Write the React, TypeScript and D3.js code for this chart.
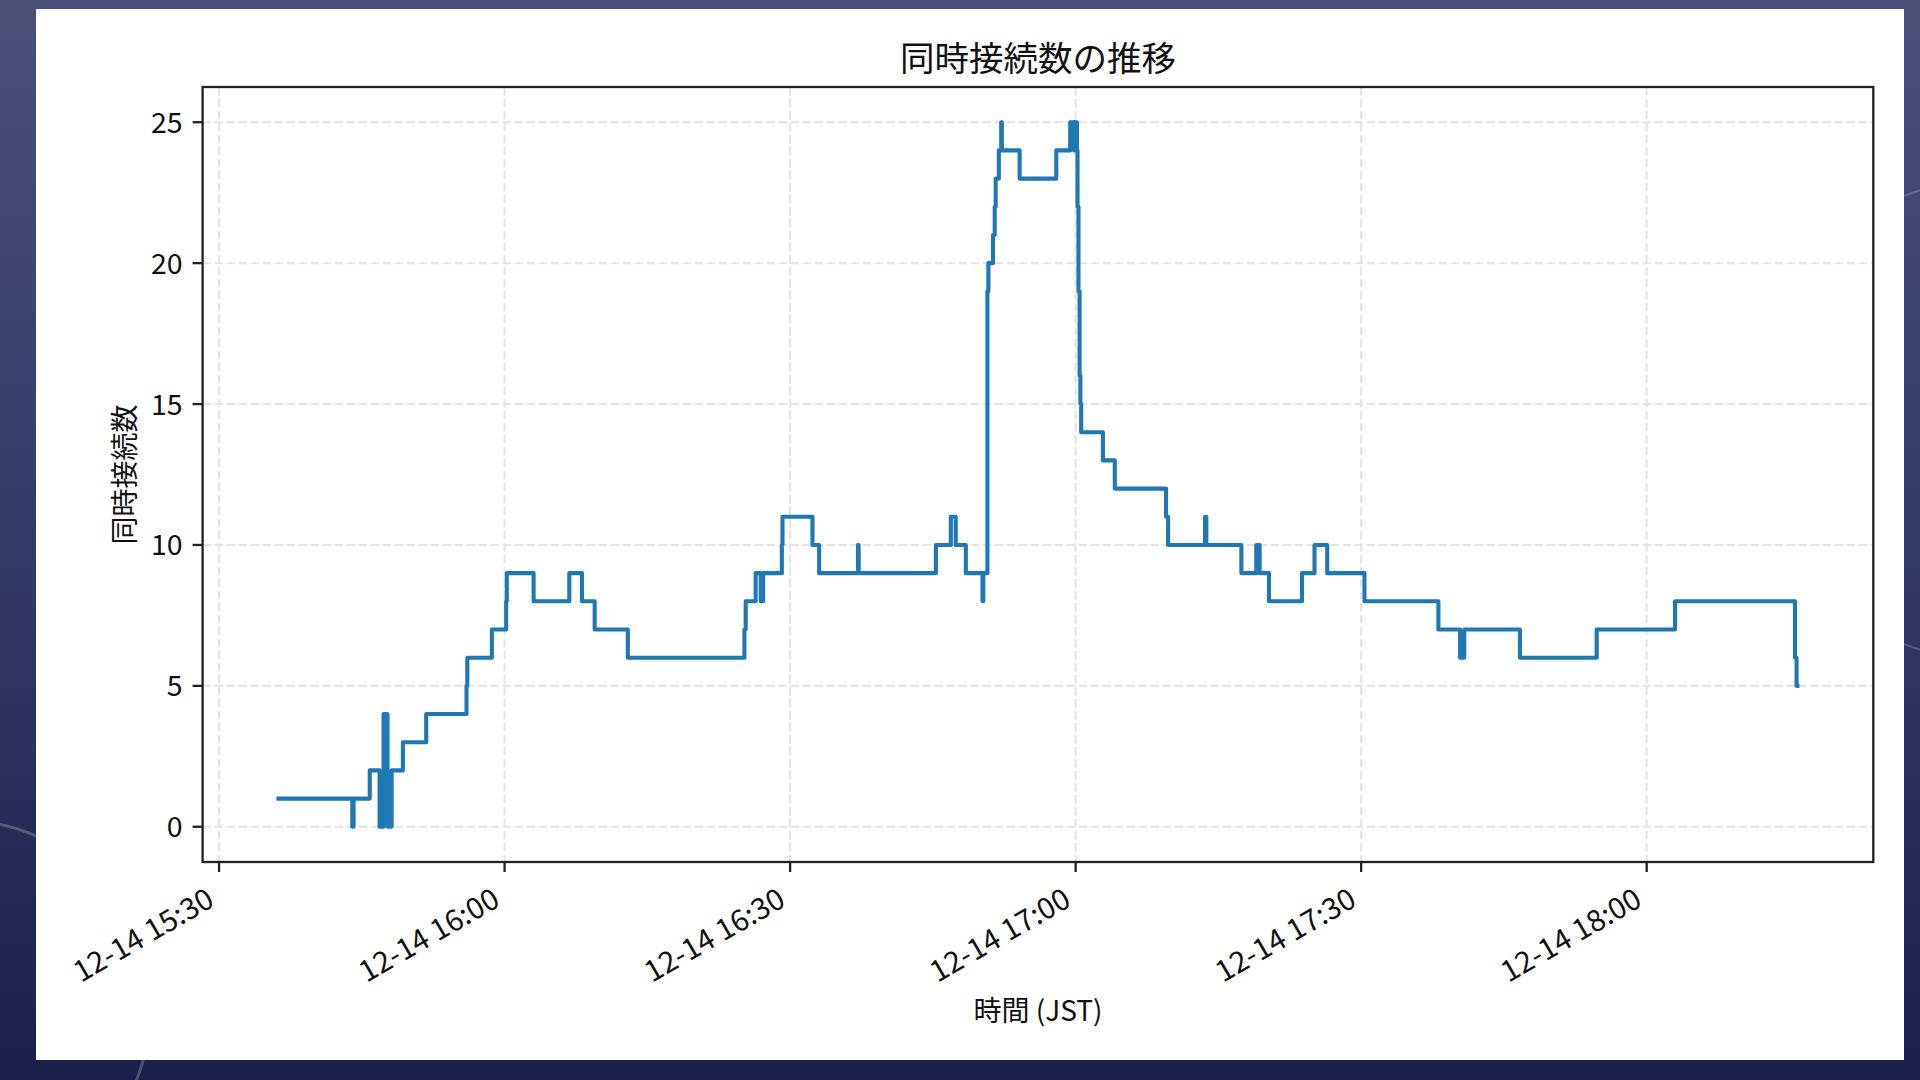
import React from "react";
import * as d3 from "d3";

const TITLE = "同時接続数の推移";
const X_LABEL = "時間 (JST)";
const Y_LABEL = "同時接続数";

// step events: time (JST, 12-14) and concurrent connections from that time on
const eventTimes = [
  "15:36:15", "15:44:00", "15:44:08", "15:45:50", "15:46:52", "15:47:17", "15:47:42", "15:48:08",
  "15:49:19", "15:51:46", "15:56:00", "15:56:05", "15:58:40", "16:00:10", "16:00:14", "16:03:03",
  "16:06:48", "16:08:08", "16:09:28", "16:12:57", "16:25:12", "16:25:20", "16:26:23", "16:26:55",
  "16:27:10", "16:29:08", "16:29:12", "16:32:21", "16:33:03", "16:37:08", "16:37:12", "16:45:19",
  "16:46:53", "16:47:24", "16:48:28", "16:50:13", "16:50:18", "16:50:44", "16:50:50", "16:51:19",
  "16:51:30", "16:51:36", "16:51:56", "16:52:11", "16:52:15", "16:54:07", "16:57:58", "16:59:26",
  "16:59:50", "16:59:54", "17:00:08", "17:00:12", "17:00:18", "17:00:25", "17:00:30", "17:00:35",
  "17:02:52", "17:04:07", "17:09:30", "17:09:43", "17:13:36", "17:13:44", "17:17:25", "17:18:59",
  "17:19:20", "17:20:19", "17:23:47", "17:25:06", "17:26:26", "17:30:21", "17:38:07", "17:40:24",
  "17:40:50", "17:46:41", "17:54:45", "18:02:59", "18:15:35", "18:15:45", "18:15:50",
];
const eventValues = [
  1, 0, 1, 2, 0, 4, 0, 2,
  3, 4, 5, 6, 7, 8, 9, 8,
  9, 8, 7, 6, 7, 8, 9, 8,
  9, 10, 11, 10, 9, 10, 9, 10,
  11, 10, 9, 8, 9, 19, 20, 21,
  22, 23, 24, 25, 24, 23, 24, 25,
  24, 25, 24, 22, 19, 16, 15, 14,
  13, 12, 11, 10, 11, 10, 9, 10,
  9, 8, 9, 10, 9, 8, 7, 6,
  7, 6, 7, 8, 6, 5, 5,
];

const xTickTimes = ["15:30", "16:00", "16:30", "17:00", "17:30", "18:00"];
const xTickLabels = ["12-14 15:30", "12-14 16:00", "12-14 16:30", "12-14 17:00", "12-14 17:30", "12-14 18:00"];
const yTicks = [0, 5, 10, 15, 20, 25];

const FONT = "'Noto Sans CJK JP', 'Noto Sans', sans-serif";
const AX = { left: 202.6, top: 87, right: 1873.3, bottom: 862 };
const PANEL = { x: 36, y: 9, w: 1868, h: 1051 };

type Pt = { t: Date; v: number };

export default function App() {
  const parseT = d3.timeParse("%H:%M:%S");
  const parseHM = d3.timeParse("%H:%M");
  const pts: Pt[] = eventTimes.map((s, i) => ({ t: parseT(s) as Date, v: eventValues[i] }));
  const ext = d3.extent(pts, (d) => d.t) as [Date, Date];
  const span = +ext[1] - +ext[0];
  const x = d3
    .scaleTime()
    .domain([new Date(+ext[0] - 0.05 * span), new Date(+ext[1] + 0.05 * span)])
    .range([AX.left, AX.right]);
  const vExt = d3.extent(eventValues) as [number, number];
  const vr = vExt[1] - vExt[0];
  const y = d3
    .scaleLinear()
    .domain([vExt[0] - 0.05 * vr, vExt[1] + 0.05 * vr])
    .range([AX.bottom, AX.top]);
  const line = d3
    .line<Pt>()
    .x((d) => x(d.t))
    .y((d) => y(d.v))
    .curve(d3.curveStepAfter);

  const xTicks = xTickTimes.map((s) => parseHM(s) as Date);
  const fs = 28;
  const tfs = 29.5;
  const axisColor = "#222";
  const gridColor = "#e3e3e3";

  return (
    <svg
      width={1920}
      height={1080}
      style={{ position: "fixed", left: 0, top: 0, display: "block" }}
      fontFamily={FONT}
    >
      <defs>
        <linearGradient id="bg" x1="0" y1="0" x2="0" y2="1">
          <stop offset="0%" stopColor="#4a5078" />
          <stop offset="45%" stopColor="#363c6a" />
          <stop offset="100%" stopColor="#1c1f4c" />
        </linearGradient>
      </defs>
      <rect x={0} y={0} width={1920} height={1080} fill="url(#bg)" />
      <circle cx={-40} cy={1010} r={190} fill="none" stroke="#ffffff" strokeOpacity={0.22} strokeWidth={3} />
      <circle cx={1990} cy={420} r={240} fill="none" stroke="#ffffff" strokeOpacity={0.18} strokeWidth={2} />
      <rect x={PANEL.x} y={PANEL.y} width={PANEL.w} height={PANEL.h} fill="#ffffff" />

      {/* grid */}
      <g stroke={gridColor} strokeWidth={2} strokeDasharray="8.4 3.6">
        {xTicks.map((t, i) => (
          <line key={"gx" + i} x1={x(t)} x2={x(t)} y1={AX.top} y2={AX.bottom} />
        ))}
        {yTicks.map((v) => (
          <line key={"gy" + v} x1={AX.left} x2={AX.right} y1={y(v)} y2={y(v)} />
        ))}
      </g>

      {/* data line */}
      <path
        d={line(pts) || ""}
        fill="none"
        stroke="#1f77b4"
        strokeWidth={4.1}
        strokeLinejoin="round"
        strokeLinecap="square"
      />

      {/* spines */}
      <rect
        x={AX.left}
        y={AX.top}
        width={AX.right - AX.left}
        height={AX.bottom - AX.top}
        fill="none"
        stroke={axisColor}
        strokeWidth={2.3}
      />

      {/* y ticks */}
      <g>
        {yTicks.map((v) => (
          <g key={"yt" + v}>
            <line x1={AX.left - 10} x2={AX.left} y1={y(v)} y2={y(v)} stroke={axisColor} strokeWidth={2.3} />
            <text x={AX.left - 20} y={y(v) + 10.5} textAnchor="end" fontSize={fs + 0.5} fill="#111">
              {v}
            </text>
          </g>
        ))}
      </g>

      {/* x ticks */}
      <g>
        {xTicks.map((t, i) => {
          const tx = x(t);
          const px = tx - 3;
          const py = AX.bottom + 43;
          return (
            <g key={"xt" + i}>
              <line x1={tx} x2={tx} y1={AX.bottom} y2={AX.bottom + 10} stroke={axisColor} strokeWidth={2.3} />
              <text
                x={px}
                y={py}
                textAnchor="end"
                fontSize={tfs}
                fill="#111"
                transform={`rotate(-30 ${px} ${py})`}
              >
                {xTickLabels[i]}
              </text>
            </g>
          );
        })}
      </g>

      {/* labels */}
      <text x={(AX.left + AX.right) / 2} y={71} textAnchor="middle" fontSize={34.5} fill="#111">
        {TITLE}
      </text>
      <text x={(AX.left + AX.right) / 2} y={1020.6} textAnchor="middle" fontSize={fs} fill="#111">
        {X_LABEL}
      </text>
      <text
        x={0}
        y={0}
        textAnchor="middle"
        fontSize={fs}
        fill="#111"
        transform={`translate(134.5 ${(AX.top + AX.bottom) / 2}) rotate(-90)`}
      >
        {Y_LABEL}
      </text>
    </svg>
  );
}
